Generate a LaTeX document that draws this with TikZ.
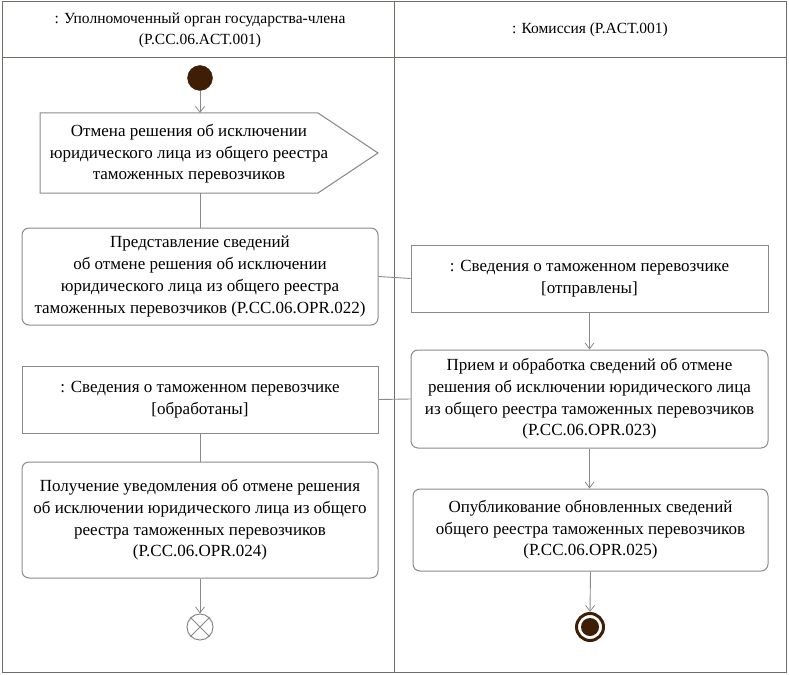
\documentclass[tikz,border=0pt]{standalone}
\usepackage{fontspec}
\setmainfont{Liberation Serif}
\usetikzlibrary{arrows.meta,calc}
\definecolor{lanec}{HTML}{6E6E66}
\definecolor{boxc}{HTML}{8A8A8A}
\definecolor{darkb}{HTML}{3E1E05}
\tikzset{
  txt/.style={align=center, font=\fontsize{17}{21.7}\selectfont, inner sep=0pt},
  htxt/.style={align=center, font=\fontsize{15.5}{21}\selectfont, inner sep=0pt},
  actbox/.style={draw=boxc, line width=1pt, rounded corners=7pt, fill=white},
  objbox/.style={draw=boxc, line width=1pt, fill=white},
  flow/.style={draw=boxc, line width=0.9pt},
  flowarr/.style={flow, -{Straight Barb[length=6pt,width=9pt,line width=0.8pt]}},
  lane/.style={draw=lanec, line width=1pt}
}
\begin{document}
\begin{tikzpicture}[x=1pt,y=-1pt]
\useasboundingbox (0,0) rectangle (789,674);
% swimlanes
\draw[lane] (2,2) rectangle (786,672);
\draw[lane] (2,58) -- (786,58);
\draw[lane] (394,2) -- (394,672);
\node[htxt] (h1) at (200,30) {: Уполномоченный орган государства-члена\\(P.CC.06.ACT.001)};
\node[htxt] (h2) at (590,30) {: Комиссия (P.ACT.001)};
% start
\node[circle, fill=darkb, draw=darkb, minimum size=25pt, inner sep=0pt] (start) at (200,78) {};
% signal
\node[minimum width=338pt, minimum height=80pt, inner sep=0pt] (sig) at (209,153) {};
\draw[objbox] (40,113) -- (318,113) -- (378,153) -- (318,193) -- (40,193) -- cycle;
\node[txt] (sigt) at (189,154) {Отмена решения об исключении\\юридического лица из общего реестра\\таможенных перевозчиков};
\coordinate (sigtop) at (200,113);
\coordinate (sigbot) at (200,193);
% box1
\node[actbox, minimum width=356pt, minimum height=97pt] (b1) at (200,276.5) {};
\node[txt] at (b1) {Представление сведений\\об отмене решения об исключении\\юридического лица из общего реестра\\таможенных перевозчиков (P.CC.06.OPR.022)};
% obj1
\node[objbox, minimum width=357pt, minimum height=67pt] (o1) at (589.5,278.5) {};
\node[txt] at (o1) {: Сведения о таможенном перевозчике\\{}[отправлены]};
% box2
\node[actbox, minimum width=357pt, minimum height=98pt] (b2) at (589.5,399) {};
\node[txt] at (b2) {Прием и обработка сведений об отмене\\решения об исключении юридического лица\\из общего реестра таможенных перевозчиков\\(P.CC.06.OPR.023)};
% obj2
\node[objbox, minimum width=356pt, minimum height=67pt] (o2) at (200,399.5) {};
\node[txt] at (o2) {: Сведения о таможенном перевозчике\\{}[обработаны]};
% box3
\node[actbox, minimum width=356pt, minimum height=116pt] (b3) at (200,520) {};
\node[txt] at (b3) {Получение уведомления об отмене решения\\об исключении юридического лица из общего\\реестра таможенных перевозчиков\\(P.CC.06.OPR.024)};
% box4
\node[actbox, minimum width=355pt, minimum height=82pt] (b4) at (590.5,530) {};
\node[txt] at (b4) {Опубликование обновленных сведений\\общего реестра таможенных перевозчиков\\(P.CC.06.OPR.025)};
% flow final
\node[circle, draw=boxc, line width=1pt, minimum size=26pt, inner sep=0pt, fill=white] (ff) at (200,627) {};
\draw[boxc, line width=1pt] (ff.north west) -- (ff.south east);
\draw[boxc, line width=1pt] (ff.north east) -- (ff.south west);
% final
\node[circle, draw=darkb, line width=3pt, minimum size=27pt, inner sep=0pt, fill=white] (fin) at (590,627) {};
\node[circle, fill=darkb, minimum size=18pt, inner sep=0pt] (fininner) at (fin) {};
% connectors
\draw[flowarr] (start) -- (sigtop);
\draw[flow] (sigbot) -- (b1.north);
\draw[flow] (b1.east) -- (o1.west);
\draw[flowarr] (o1.south) -- (b2.north);
\draw[flow] (b2.west) -- (o2.east);
\draw[flow] (o2.south) -- (b3.north);
\draw[flowarr] (b3.south) -- (ff.north);
\draw[flowarr] (b4.south) -- (fin.north);
\draw[flowarr] (b2.south) -- (b2.south |- b4.north);
\end{tikzpicture}
\end{document}
